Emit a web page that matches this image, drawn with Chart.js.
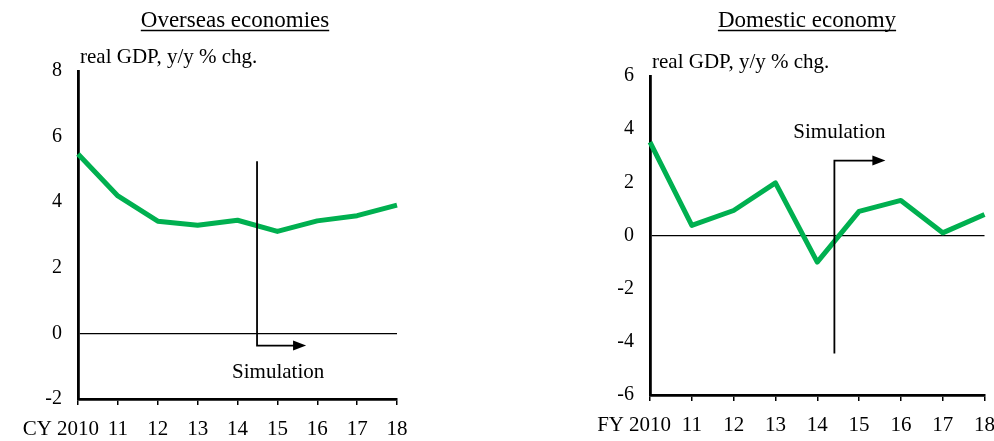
<!DOCTYPE html>
<html>
<head>
    <title>Real GDP simulation</title>
    <script src="https://cdn.jsdelivr.net/npm/chart.js"></script>
    <style>
        body { margin: 0; background: #fff; overflow: hidden; }
        #wrap { position: relative; width: 994px; height: 441px; overflow: hidden; }
        canvas { position: absolute; top: 0; }
    </style>
</head>
<body>
    <div id="wrap">
        <canvas id="overseas" width="497" height="441" style="left:0"></canvas>
        <canvas id="domestic" width="510" height="441" style="left:497px"></canvas>
    </div>

    <script>
        // fiscal / calendar years shown on the x axis
        const years = ['2010', '11', '12', '13', '14', '15', '16', '17', '18'];
        // real GDP, y/y % chg.
        const overseasGdp = [5.47, 4.19, 3.42, 3.30, 3.45, 3.11, 3.43, 3.59, 3.91];
        const domesticGdp = [3.51, 0.38, 0.94, 1.98, -1.0, 0.91, 1.32, 0.10, 0.79];
        const overseasYTicks = [-2, 0, 2, 4, 6, 8];
        const domesticYTicks = [-6, -4, -2, 0, 2, 4, 6];

        const serif = '"Liberation Serif", "Times New Roman", serif';

        // titles, unit label, year prefix and the "Simulation" arrow
        const annotate = {
            id: 'annotate',
            afterDraw(chart, args, o) {
                const ctx = chart.ctx;
                const xs = chart.scales.x, ys = chart.scales.y, area = chart.chartArea;
                ctx.save();
                ctx.fillStyle = '#000';
                ctx.strokeStyle = '#000';

                // underlined title
                ctx.font = '23px ' + serif;
                ctx.textAlign = 'center';
                ctx.textBaseline = 'alphabetic';
                ctx.fillText(o.title, o.titleX, 27);
                const tw = ctx.measureText(o.title).width;
                ctx.lineWidth = 1.3;
                ctx.beginPath();
                ctx.moveTo(o.titleX - tw / 2, 30.5);
                ctx.lineTo(o.titleX + tw / 2, 30.5);
                ctx.stroke();

                // unit label above the plot
                ctx.font = '21px ' + serif;
                ctx.textAlign = 'left';
                ctx.fillText(o.unit, area.left + 2, area.top - 8);

                // CY / FY prefix before the first year
                ctx.textAlign = 'right';
                ctx.textBaseline = 'top';
                const x0 = xs.getPixelForValue(0);
                const half = ctx.measureText(years[0]).width / 2;
                ctx.fillText(o.prefix, x0 - half - 5, xs.top + 6 + 14);

                // simulation arrow
                const s = o.sim;
                const sx = xs.getPixelForValue(s.x);
                const y1 = ys.getPixelForValue(s.from);
                const y2 = ys.getPixelForValue(s.to);
                const tip = xs.getPixelForValue(s.tip);
                ctx.lineWidth = 1.8;
                ctx.beginPath();
                ctx.moveTo(sx, y1);
                ctx.lineTo(sx, y2);
                ctx.lineTo(tip - 10, y2);
                ctx.stroke();
                ctx.beginPath();
                ctx.moveTo(tip, y2);
                ctx.lineTo(tip - 13, y2 - 5);
                ctx.lineTo(tip - 13, y2 + 5);
                ctx.closePath();
                ctx.fill();

                ctx.font = '21px ' + serif;
                ctx.textAlign = 'center';
                ctx.textBaseline = 'alphabetic';
                ctx.fillText('Simulation', xs.getPixelForValue(s.textX), ys.getPixelForValue(s.textY));
                ctx.restore();
            }
        };

        function makeChart(id, values, yTicks, pad, axisW, axisH, annot) {
            return new Chart(document.getElementById(id), {
                type: 'line',
                data: {
                    labels: years,
                    datasets: [{
                        data: values,
                        borderColor: '#00b050',
                        borderWidth: 5,
                        pointRadius: 0,
                        tension: 0,
                        borderJoinStyle: 'round',
                        clip: 6
                    }]
                },
                options: {
                    responsive: false,
                    animation: false,
                    events: [],
                    layout: { padding: pad },
                    plugins: {
                        legend: { display: false },
                        tooltip: { enabled: false },
                        annotate: annot
                    },
                    scales: {
                        x: {
                            offset: false,
                            afterFit: (scale) => { scale.height = axisH; },
                            grid: {
                                drawOnChartArea: false,
                                drawTicks: true,
                                tickLength: 6,
                                color: '#000',
                                lineWidth: 1.5
                            },
                            border: { display: true, color: '#000', width: 2.8 },
                            ticks: {
                                color: '#000',
                                font: { family: serif, size: 21 },
                                padding: 12,
                                maxRotation: 0,
                                autoSkip: false
                            }
                        },
                        y: {
                            min: yTicks[0],
                            max: yTicks[yTicks.length - 1],
                            afterFit: (scale) => { scale.width = axisW; },
                            afterBuildTicks: (scale) => { scale.ticks = yTicks.map(v => ({ value: v })); },
                            grid: {
                                drawTicks: false,
                                color: (c) => c.tick && c.tick.value === 0 ? '#000' : 'rgba(0,0,0,0)',
                                lineWidth: 1.2
                            },
                            border: { display: true, color: '#000', width: 2.8 },
                            ticks: {
                                color: '#000',
                                font: { family: serif, size: 20 },
                                padding: 16
                            }
                        }
                    }
                },
                plugins: [annotate]
            });
        }

        makeChart('overseas', overseasGdp, overseasYTicks,
            { top: 71, right: 100, bottom: 0, left: 0 }, 78, 42,
            {
                title: 'Overseas economies', titleX: 235, prefix: 'CY',
                unit: 'real GDP, y/y % chg.',
                sim: { x: 4.49, from: 5.25, to: -0.37, tip: 5.72, textX: 5.02, textY: -1.37 }
            });

        makeChart('domestic', domesticGdp, domesticYTicks,
            { top: 76, right: 0, bottom: 0, left: 0 }, 153, 46,
            {
                title: 'Domestic economy', titleX: 310, prefix: 'FY',
                unit: 'real GDP, y/y % chg.',
                sim: { x: 4.41, from: -4.44, to: 2.82, tip: 5.63, textX: 4.53, textY: 3.68 }
            });
    </script>
</body>
</html>
